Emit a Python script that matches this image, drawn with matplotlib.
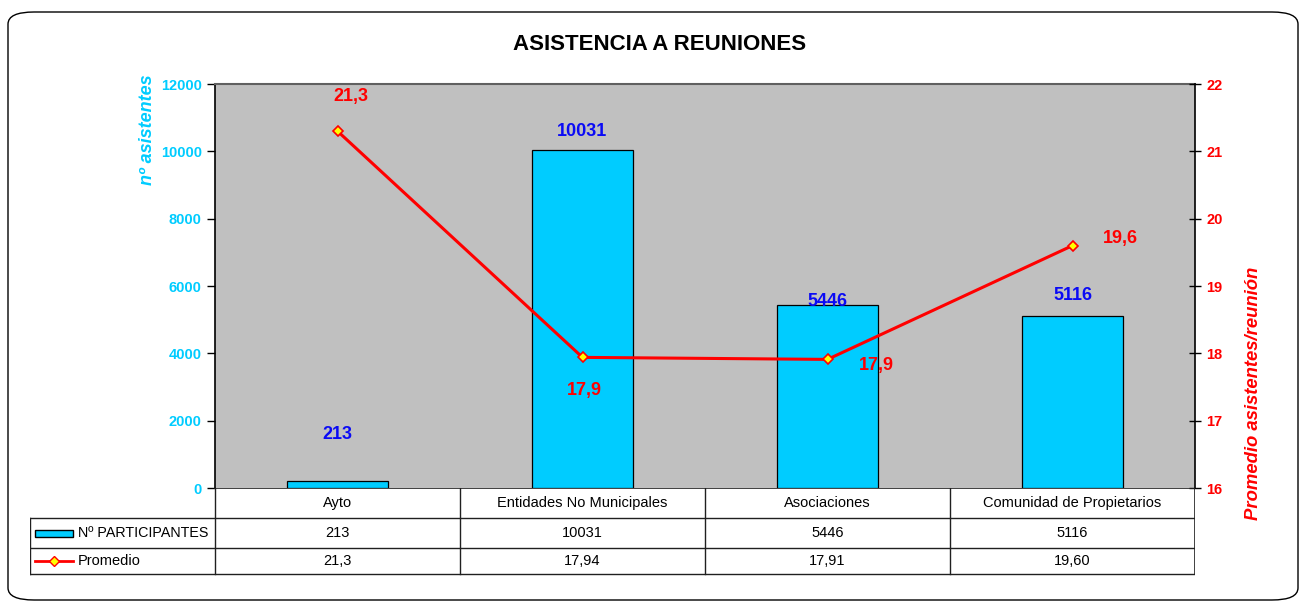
"""Asistencia a reuniones: barras (nº asistentes) + línea (promedio) con tabla de datos estilo Excel."""
import matplotlib
matplotlib.use("Agg")
import matplotlib.pyplot as plt
from matplotlib.patches import FancyBboxPatch, Rectangle
from matplotlib.lines import Line2D

plt.rcParams["font.family"] = ["Liberation Sans", "DejaVu Sans"]

categorias = ["Ayto", "Entidades No Municipales", "Asociaciones", "Comunidad de Propietarios"]
participantes = [213, 10031, 5446, 5116]
promedio = [21.3, 17.94, 17.91, 19.60]
promedio_txt = ["21,3", "17,94", "17,91", "19,60"]

CYAN = "#00CCFF"
GRAY = "#C0C0C0"
BLUE = "#0A0AF5"
RED = "#FF0000"

W, H = 1305, 606
fig = plt.figure(figsize=(W / 100, H / 100), dpi=100)


def box(x0, y0, x1, y1):
    # pixel box (top-left origin) -> figure fraction rect
    return [x0 / W, 1 - y1 / H, (x1 - x0) / W, (y1 - y0) / H]


# outer rounded frame
fig.patches.append(FancyBboxPatch((8 / W, 1 - 600 / H), 1290 / W, 588 / H,
                                  boxstyle="round,pad=0,rounding_size=0.02",
                                  transform=fig.transFigure, fc="none", ec="black", lw=1.0))

ax = fig.add_axes(box(215, 84, 1195, 488))
ax.set_facecolor(GRAY)
x = list(range(len(categorias)))
ax.bar(x, participantes, width=0.41, color=CYAN, edgecolor="black", lw=0.9, zorder=2)
ax.set_xlim(-0.5, 3.5)
ax.set_ylim(0, 12000)
ax.set_yticks(range(0, 12001, 2000))
ax.set_xticks([])
ax.tick_params(axis="y", colors="black", labelcolor=CYAN, labelsize=10.5, length=6, width=1)
for t in ax.get_yticklabels():
    t.set_fontweight("bold")
ax.set_ylabel("nº asistentes", color=CYAN, fontsize=13, fontweight="bold", style="italic")
ax.yaxis.set_label_coords(-0.069, 0.886)
ax.yaxis.label.set_va("center")
ax.spines["top"].set_color("#606060")
ax.spines["top"].set_linewidth(1.5)
ax.spines["left"].set_linewidth(1.2)
ax.spines["bottom"].set_visible(False)
ax.spines["right"].set_visible(False)

bar_off = [46, 19, 3, 20]
for xi, v, off in zip(x, participantes, bar_off):
    ax.annotate(str(v), (xi, v), xytext=(0, off), textcoords="offset pixels",
                ha="center", va="center", color=BLUE, fontsize=13, fontweight="bold", zorder=5)

ax2 = ax.twinx()
ax2.plot(x, promedio, color=RED, lw=2.2, marker="D", ms=5.5, mfc="#FFFF00", mec=RED, mew=1.2,
         zorder=4)
ax2.set_ylim(16, 22)
ax2.set_yticks(range(16, 23))
ax2.tick_params(axis="y", direction="inout", length=9, width=1, labelcolor=RED, labelsize=10.5)
for t in ax2.get_yticklabels():
    t.set_fontweight("bold")
ax2.set_ylabel("Promedio asistentes/reunión", color=RED, fontsize=13.3, fontweight="bold",
               style="italic")
ax2.yaxis.set_label_coords(1.0595, -0.079)
ax2.yaxis.label.set_va("center")
ax2.yaxis.label.set_ha("left")
for s in ["top", "left", "bottom"]:
    ax2.spines[s].set_visible(False)
ax2.spines["right"].set_linewidth(1.2)

line_off = [(13, 35), (2, -33), (49, -6), (48, 7)]
for xi, v, (dx, dy) in zip(x, promedio, line_off):
    ax2.annotate(f"{v:.1f}".replace(".", ","), (xi, v), xytext=(dx, dy), textcoords="offset pixels",
                 ha="center", va="center", color=RED, fontsize=13, fontweight="bold")

fig.text(660 / W, 1 - 44 / H, "ASISTENCIA A REUNIONES", ha="center", va="center",
         fontsize=16, fontweight="bold")

# data table below the plot (y in pixels from the table top, downward)
tab = fig.add_axes(box(30, 488, 1195, 576))
tab.set_xlim(-0.5 - 185 / 245, 3.5)
tab.set_ylim(88, 0)
tab.axis("off")
left = -0.5 - 185 / 245
lc = "#202020"
tab.plot([-0.5, 3.5], [0, 0], color=lc, lw=1.2)
for yy in (30, 60, 86):
    tab.plot([left, 3.5], [yy, yy], color=lc, lw=1)
tab.plot([left, left], [30, 86], color=lc, lw=1)
for xx in [-0.5, 0.5, 1.5, 2.5]:
    tab.plot([xx, xx], [0, 86], color=lc, lw=1)
tab.plot([3.5, 3.5], [0, 86], color=lc, lw=1.2)
for xi, c, p, m in zip(x, categorias, participantes, promedio_txt):
    tab.text(xi, 15, c, ha="center", va="center", fontsize=10.5)
    tab.text(xi, 45, str(p), ha="center", va="center", fontsize=10.5)
    tab.text(xi, 73, m, ha="center", va="center", fontsize=10.5)

kx0, kx1 = left + 5 / 245, left + 43 / 245
tab.add_patch(Rectangle((kx0, 42), kx1 - kx0, 7, fc=CYAN, ec="black", lw=1))
tab.text(left + 48 / 245, 45, "Nº PARTICIPANTES", ha="left", va="center", fontsize=10.3)
tab.add_line(Line2D([kx0, kx1], [73, 73], color=RED, lw=2))
tab.plot([(kx0 + kx1) / 2], [73], marker="D", ms=5, mfc="#FFFF00", mec=RED, mew=1)
tab.text(left + 48 / 245, 73, "Promedio", ha="left", va="center", fontsize=10.5)

fig.savefig("out.png", dpi=100)
